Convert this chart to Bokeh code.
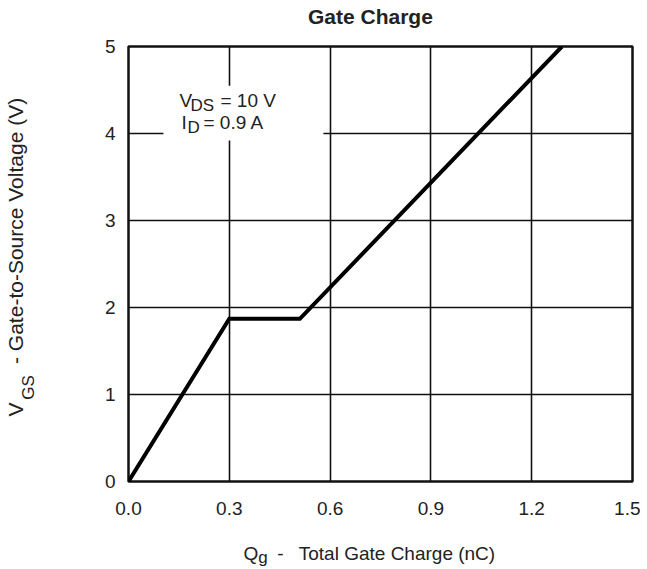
from bokeh.plotting import figure
from bokeh.models import Range1d, FixedTicker, Label, LinearAxis
from bokeh.embed import file_html
from bokeh.resources import INLINE

# Data
qg = [0.0, 0.30, 0.51, 1.29]          # nC
vgs = [0.0, 1.87, 1.87, 5.0]          # V
x_ticks = [0.0, 0.3, 0.6, 0.9, 1.2, 1.5]
x_tick_labels = ["0.0", "0.3", "0.6", "0.9", "1.2", "1.5"]
y_ticks = [0, 1, 2, 3, 4, 5]
y_tick_labels = ["0", "1", "2", "3", "4", "5"]
note_box = dict(left=0.104, right=0.58, bottom=3.92, top=4.55)

FONT = "Liberation Sans"
TXT = "#222222"
FS = "19px"
SUB = "17px"

p = figure(width=640, height=569, x_range=Range1d(0, 1.5), y_range=Range1d(0, 5),
           output_backend="svg", toolbar_location=None,
           min_border_left=128, min_border_right=8, min_border_top=46, min_border_bottom=88)
p.title.visible = False
p.background_fill_color = "white"
p.border_fill_color = "white"
p.outline_line_color = "#111111"
p.outline_line_width = 2.5

p.xaxis.ticker = FixedTicker(ticks=x_ticks)
p.yaxis.ticker = FixedTicker(ticks=y_ticks)
p.xaxis.major_label_overrides = {t: l for t, l in zip(x_ticks, x_tick_labels)}
p.yaxis.major_label_overrides = {t: l for t, l in zip(y_ticks, y_tick_labels)}

def style_axis(ax, size=FS):
    ax.axis_line_color = None
    ax.major_tick_line_color = None
    ax.minor_tick_line_color = None
    ax.major_tick_out = 0
    ax.major_tick_in = 0
    ax.minor_tick_out = 0
    ax.minor_tick_in = 0
    ax.major_label_text_font = FONT
    ax.major_label_text_font_size = size
    ax.major_label_text_color = TXT

style_axis(p.xaxis[0])
style_axis(p.yaxis[0])
p.xaxis.major_label_standoff = 20
p.yaxis.major_label_standoff = 13

for g in (p.xgrid, p.ygrid):
    g.grid_line_color = "#111111"
    g.grid_line_width = 1.6
    g.grid_line_alpha = 1.0
p.xgrid.ticker = FixedTicker(ticks=x_ticks)
p.ygrid.ticker = FixedTicker(ticks=y_ticks)

# white box behind the condition note
p.quad(left=[note_box["left"]], right=[note_box["right"]],
       bottom=[note_box["bottom"]], top=[note_box["top"]],
       fill_color="white", line_color=None)

p.line(qg, vgs, line_color="black", line_width=4, line_join="miter")

def lab(x, y, text, size=FS):
    p.add_layout(Label(x=x, y=y, x_units="screen", y_units="screen", text=text,
                       text_font=FONT, text_font_size=size, text_color=TXT,
                       text_align="left", text_baseline="middle"))

# condition note
lab(51, 381, "V")
lab(62, 376, "DS", size=SUB)
lab(92, 381, "= 10 V")
lab(53, 359, "I")
lab(59, 354, "D", size=SUB)
lab(75, 359, "= 0.9 A")

# title and axis titles drawn as label-only axes (allows subscripts outside the frame)
def text_axis(side, pos, texts, size, standoff, vertical=False, bold=False):
    ax = LinearAxis(ticker=FixedTicker(ticks=pos),
                    major_label_overrides={t: s for t, s in zip(pos, texts)})
    style_axis(ax, size)
    ax.major_label_standoff = standoff
    if vertical:
        ax.major_label_orientation = "vertical"
    if bold:
        ax.major_label_text_font_style = "bold"
    p.add_layout(ax, side)
    return ax

# title
text_axis("above", [0.720], ["Gate Charge"], "21px", 19, bold=True)
# x title: "Q_g  -  Total Gate Charge (nC)"
text_axis("below", [0.400], ["g"], SUB, 30)
text_axis("below", [0.3646, 0.452, 0.799], ["Q", "-", "Total Gate Charge (nC)"], FS, -27)
# y title: "V_GS  -  Gate-to-Source Voltage (V)"
text_axis("left", [1.08], ["GS"], SUB, 63, vertical=True)
text_axis("left", [0.828, 1.39, 2.954], ["V", "-", "Gate-to-Source Voltage (V)"], "21px", -11, vertical=True)

open("out.html", "w").write(file_html(p, INLINE))
